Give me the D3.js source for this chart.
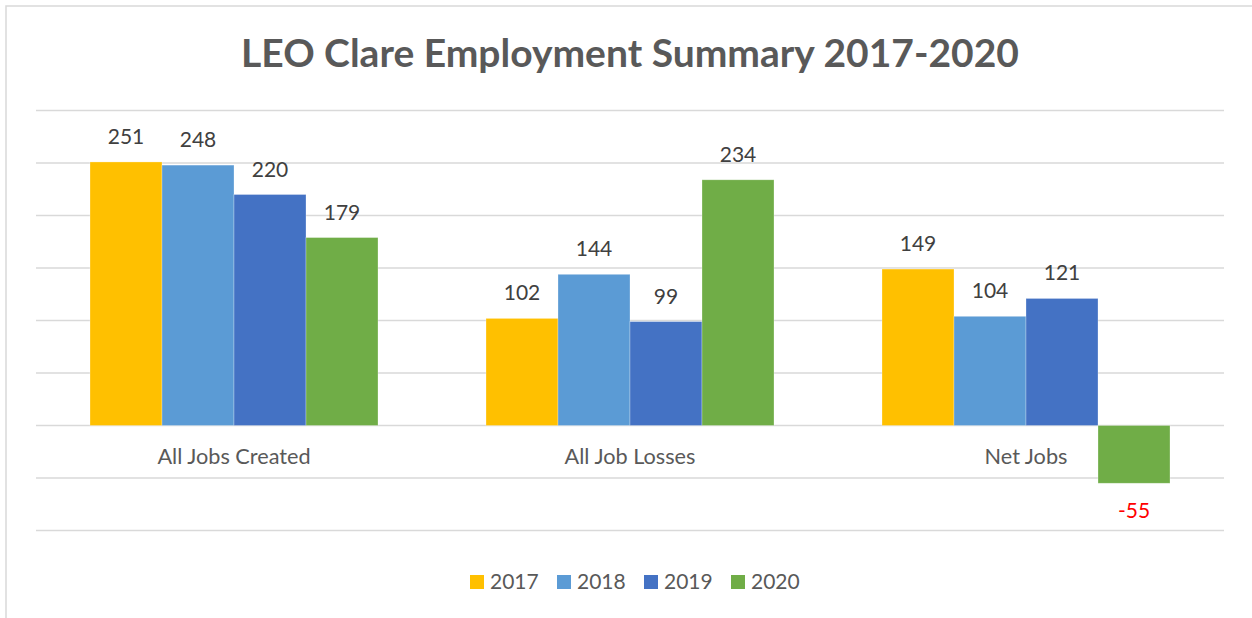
<!DOCTYPE html>
<html>
<head>
<meta charset="utf-8">
<script src="https://cdn.jsdelivr.net/npm/d3@7"></script>
<style>
  body { margin: 0; background: #fff; }
  svg { display: block; font-family: Lato, "Open Sans", sans-serif; }
</style>
</head>
<body>
<div id="chart"></div>
<script>
const categories = ["All Jobs Created", "All Job Losses", "Net Jobs"];
const years = ["2017", "2018", "2019", "2020"];
const values2017 = [251, 102, 149];
const values2018 = [248, 144, 104];
const values2019 = [220, 99, 121];
const values2020 = [179, 234, -55];
const colors = ["#FFC000", "#5B9BD5", "#4472C4", "#70AD47"];
const yTicks = [-100, -50, 0, 50, 100, 150, 200, 250, 300];

const series = [values2017, values2018, values2019, values2020];
const data = categories.map((c, i) => ({
  category: c,
  bars: years.map((yr, j) => ({ year: yr, value: series[j][i] }))
}));

const width = 1252, height = 618;
const margin = { top: 110.5, right: 28, bottom: 87.5, left: 36 };

const svg = d3.select("#chart")
  .append("svg")
  .attr("width", width)
  .attr("height", height);

// chart border (only top and left show in the frame)
svg.append("rect")
  .attr("x", 6).attr("y", 6)
  .attr("width", width).attr("height", height)
  .attr("fill", "none")
  .attr("stroke", "#d9d9d9")
  .attr("stroke-width", 1.5);

const x0 = d3.scaleBand()
  .domain(categories)
  .range([margin.left, width - margin.right])
  .paddingInner(108 / 396)
  .paddingOuter(54 / 396);

const x1 = d3.scaleBand()
  .domain(years)
  .range([0, x0.bandwidth()]);

const y = d3.scaleLinear()
  .domain([-100, 300])
  .range([height - margin.bottom, margin.top]);

const color = d3.scaleOrdinal().domain(years).range(colors);

// gridlines
svg.append("g")
  .selectAll("line")
  .data(yTicks)
  .join("line")
  .attr("x1", margin.left)
  .attr("x2", width - margin.right)
  .attr("y1", d => y(d))
  .attr("y2", d => y(d))
  .attr("stroke", "#d9d9d9")
  .attr("stroke-width", 1.3);

// title
svg.append("text")
  .attr("x", (margin.left + width - margin.right) / 2)
  .attr("y", 67)
  .attr("text-anchor", "middle")
  .attr("fill", "#595959")
  .attr("font-weight", "bold")
  .attr("font-size", 39)
  .text("LEO Clare Employment Summary 2017-2020");

// bars
const groups = svg.append("g")
  .selectAll("g")
  .data(data)
  .join("g")
  .attr("transform", d => `translate(${x0(d.category)},0)`);

groups.selectAll("rect")
  .data(d => d.bars)
  .join("rect")
  .attr("x", d => x1(d.year))
  .attr("width", x1.bandwidth())
  .attr("y", d => y(Math.max(0, d.value)))
  .attr("height", d => Math.abs(y(d.value) - y(0)))
  .attr("fill", d => color(d.year))
  .attr("stroke", "#ffffff")
  .attr("stroke-opacity", 0.4)
  .attr("stroke-width", 0.7);

// data labels
groups.selectAll("text.val")
  .data(d => d.bars)
  .join("text")
  .attr("class", "val")
  .attr("x", d => x1(d.year) + x1.bandwidth() / 2)
  .attr("y", d => d.value >= 0 ? y(d.value) - 18 : y(d.value) + 35)
  .attr("text-anchor", "middle")
  .attr("font-size", 21)
  .attr("fill", d => d.value >= 0 ? "#404040" : "#FF0000")
  .text(d => d.value);

// category labels
svg.append("g")
  .selectAll("text")
  .data(categories)
  .join("text")
  .attr("x", d => x0(d) + x0.bandwidth() / 2)
  .attr("y", 464)
  .attr("text-anchor", "middle")
  .attr("font-size", 21.7)
  .attr("fill", "#595959")
  .text(d => d);

// legend
const legend = svg.append("g")
  .selectAll("g")
  .data(years)
  .join("g")
  .attr("transform", (d, i) => `translate(${470 + i * 87},575)`);

legend.append("rect")
  .attr("width", 14)
  .attr("height", 14)
  .attr("fill", d => color(d));

legend.append("text")
  .attr("x", 20)
  .attr("y", 14)
  .attr("font-size", 21)
  .attr("fill", "#595959")
  .text(d => d);
</script>
</body>
</html>
